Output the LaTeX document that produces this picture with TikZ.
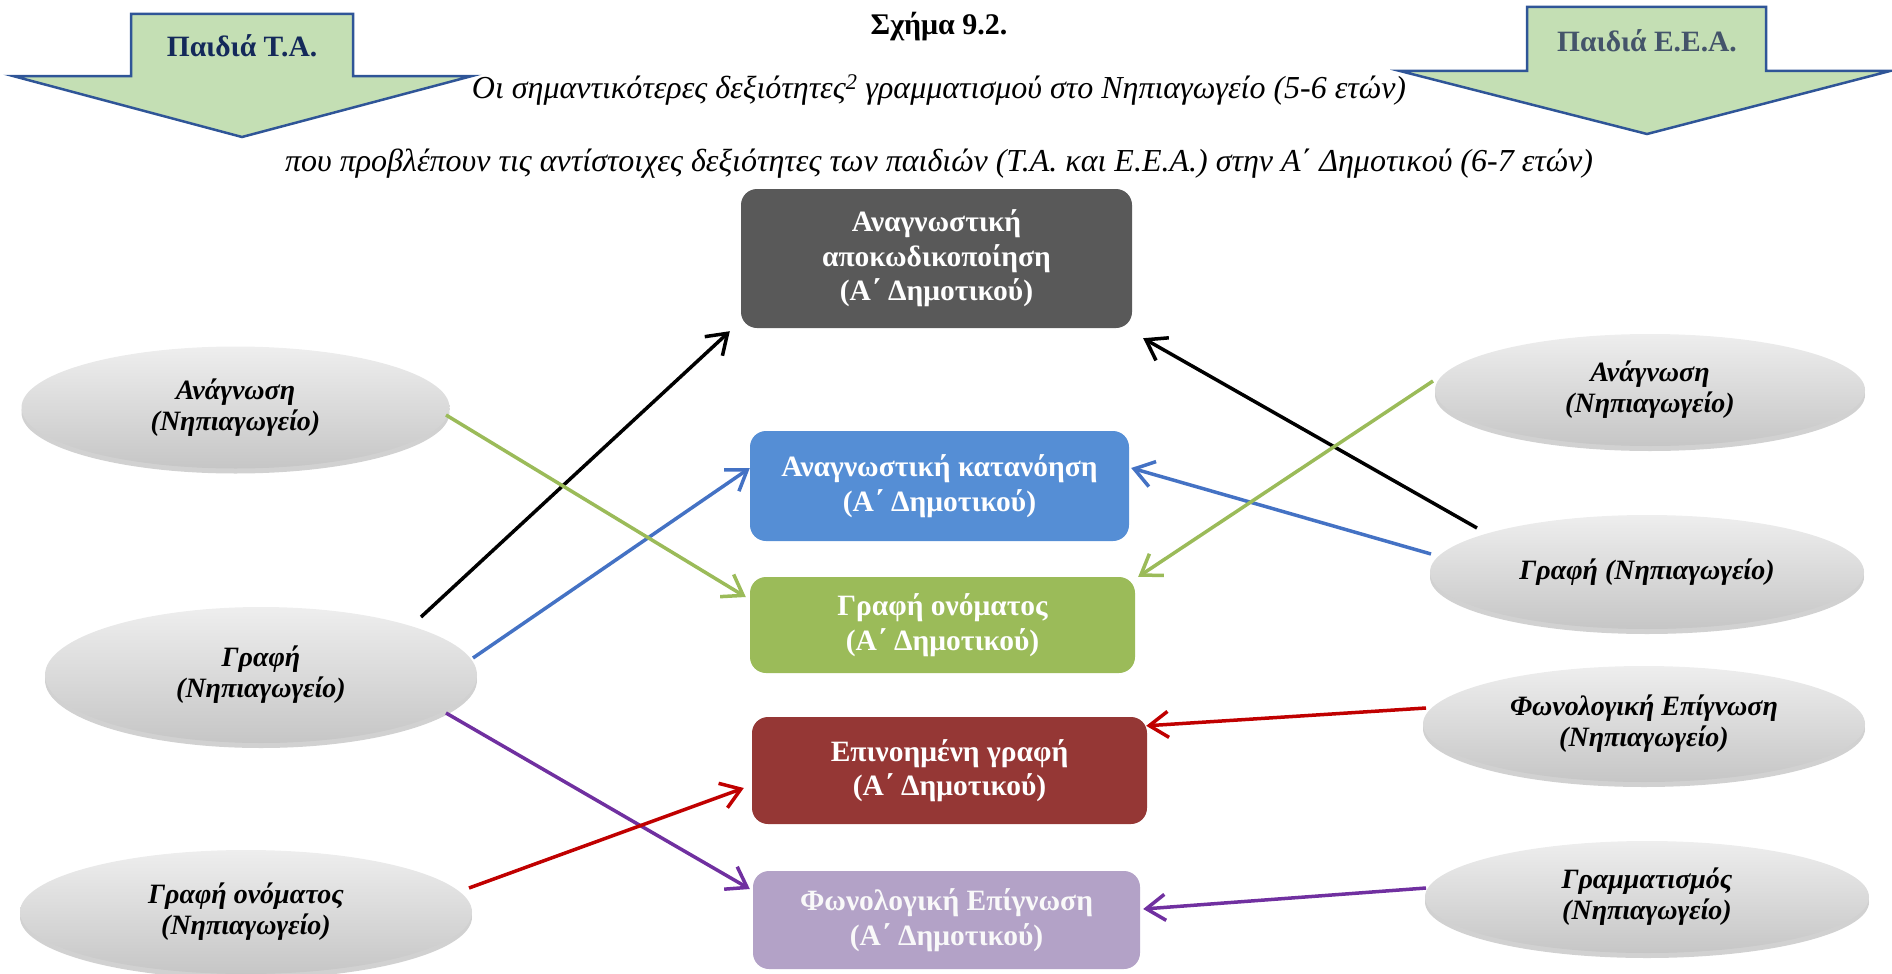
\documentclass[tikz,border=0pt]{standalone}
\usepackage{fontspec}
\setmainfont{Liberation Serif}
\usetikzlibrary{shapes.geometric,arrows.meta,calc,shadows}
\definecolor{arrowfill}{HTML}{C4DFB4}
\definecolor{arrowline}{HTML}{2F5597}
\definecolor{navytxt}{HTML}{14295A}
\definecolor{slatetxt}{HTML}{44546A}
\definecolor{boxgray}{HTML}{595959}
\definecolor{boxblue}{HTML}{558ED5}
\definecolor{boxgreen}{HTML}{9BBB59}
\definecolor{boxred}{HTML}{953735}
\definecolor{boxlilac}{HTML}{B3A2C7}
\definecolor{lnblue}{HTML}{4472C4}
\definecolor{lngreen}{HTML}{9BBB59}
\definecolor{lnpurple}{HTML}{7030A0}
\definecolor{lnred}{HTML}{C00000}
\definecolor{ellTop}{HTML}{EEEEEE}
\definecolor{ellBot}{HTML}{C6C6C6}
\begin{document}
\begin{tikzpicture}[x=1pt,y=-1pt,
  sk/.style={rectangle, rounded corners=16pt, text=white, inner sep=0pt, align=center,
    font=\bfseries\fontsize{29.5}{34.5}\selectfont},
  ell/.style={ellipse, inner sep=0pt, align=center, shading=axis, top color=ellTop, bottom color=ellBot,
    font=\bfseries\itshape\fontsize{28}{31}\selectfont,
    drop shadow={shadow xshift=0pt, shadow yshift=-5pt, opacity=0.18, fill=black}},
  conn/.style={line width=3.5pt, -{Straight Barb[length=19pt,width=26pt]}},
  blockarrow/.style={fill=arrowfill, draw=arrowline, line width=2.5pt, line join=miter},
  hdr/.style={inner sep=0pt, font=\bfseries\fontsize{29.5}{32}\selectfont}
]
\useasboundingbox (0,0) rectangle (1892,974);

% block arrows
\draw[blockarrow] (131,14) -- (353,14) -- (353,76) -- (472,76) -- (242,137) -- (13,76) -- (131,76) -- cycle;
\draw[blockarrow] (1527,7) -- (1766,7) -- (1766,71) -- (1890,71) -- (1647,134) -- (1400,71) -- (1527,71) -- cycle;
\node[hdr, text=navytxt] (ta) at (242,46) {Παιδιά Τ.Α.};
\node[hdr, text=slatetxt] (eea) at (1647,41) {Παιδιά Ε.Ε.Α.};

% titles
\node[inner sep=0pt, font=\bfseries\fontsize{30}{34}\selectfont] (title) at (939,27) {Σχήμα 9.2.};
\node[inner sep=0pt, font=\itshape\fontsize{32}{36}\selectfont] (sub1) at (939,90)
  {Οι σημαντικότερες δεξιότητες\textsuperscript{2} γραμματισμού στο Νηπιαγωγείο (5-6 ετών)};
\node[inner sep=0pt, font=\itshape\fontsize{32}{36}\selectfont] (sub2) at (939,164)
  {που προβλέπουν τις αντίστοιχες δεξιότητες των παιδιών (Τ.Α. και Ε.Ε.Α.) στην Α΄ Δημοτικού (6-7 ετών)};

% central boxes
\node[sk, fill=boxgray, minimum width=391pt, minimum height=139pt] (b1) at (936.5,258.5)
  {Αναγνωστική\\αποκωδικοποίηση\\(Α΄ Δημοτικού)};
\node[sk, fill=boxblue, minimum width=379pt, minimum height=110pt] (b2) at (939.5,486)
  {Αναγνωστική κατανόηση\\(Α΄ Δημοτικού)};
\node[sk, fill=boxgreen, minimum width=385pt, minimum height=96pt] (b3) at (942.5,625)
  {Γραφή ονόματος\\(Α΄ Δημοτικού)};
\node[sk, fill=boxred, minimum width=395pt, minimum height=107pt] (b4) at (949.5,770.5)
  {Επινοημένη γραφή\\(Α΄ Δημοτικού)};
\node[sk, fill=boxlilac, text=white!95!gray, minimum width=387pt, minimum height=98pt] (b5) at (946.5,920)
  {Φωνολογική Επίγνωση\\(Α΄ Δημοτικού)};

% left ellipses
\node[ell, minimum width=428pt, minimum height=122pt] (e1) at (235.5,407.5) {Ανάγνωση\\(Νηπιαγωγείο)};
\node[ell, minimum width=432pt, minimum height=136pt] (e2) at (261,675) {Γραφή\\(Νηπιαγωγείο)};
\node[ell, minimum width=452pt, minimum height=124pt] (e3) at (246,912) {Γραφή ονόματος\\(Νηπιαγωγείο)};
% right ellipses
\node[ell, minimum width=430pt, minimum height=112pt] (e4) at (1650,390) {Ανάγνωση\\(Νηπιαγωγείο)};
\node[ell, minimum width=434pt, minimum height=114pt] (e5) at (1647,572) {Γραφή (Νηπιαγωγείο)};
\node[ell, minimum width=442pt, minimum height=116pt] (e6) at (1644,724) {Φωνολογική Επίγνωση\\(Νηπιαγωγείο)};
\node[ell, minimum width=444pt, minimum height=112pt] (e7) at (1647,897) {Γραμματισμός\\(Νηπιαγωγείο)};

% connectors left
\draw[conn, black] ($(e2)+(160,-58)$) -- ($(b1.south west)+(-11,3)$);
\draw[conn, lnblue] ($(e2)+(212,-17)$) -- ($(b2.west)+(0,-18)$);
\draw[conn, lngreen] ($(e1)+(210.5,7.5)$) -- ($(b3.west)+(-4,-28)$);
\draw[conn, lnpurple] ($(e2)+(185,38)$) -- ($(b5.west)+(-3,-31)$);
\draw[conn, lnred] ($(e3)+(223,-24)$) -- ($(b4.west)+(-8,17.5)$);
% connectors right
\draw[conn, black] ($(e5)+(-170,-44)$) -- ($(b1.south east)+(11,10)$);
\draw[conn, lnblue] ($(e5)+(-216,-18)$) -- ($(b2.east)+(2,-18)$);
\draw[conn, lngreen] ($(e4)+(-217,-9)$) -- ($(b3.north east)+(3,0)$);
\draw[conn, lnred] ($(e6)+(-218,-16)$) -- ($(b4.north east)+(-1,9)$);
\draw[conn, lnpurple] ($(e7)+(-221,-9)$) -- ($(b5.east)+(3,-11)$);
\end{tikzpicture}
\end{document}
